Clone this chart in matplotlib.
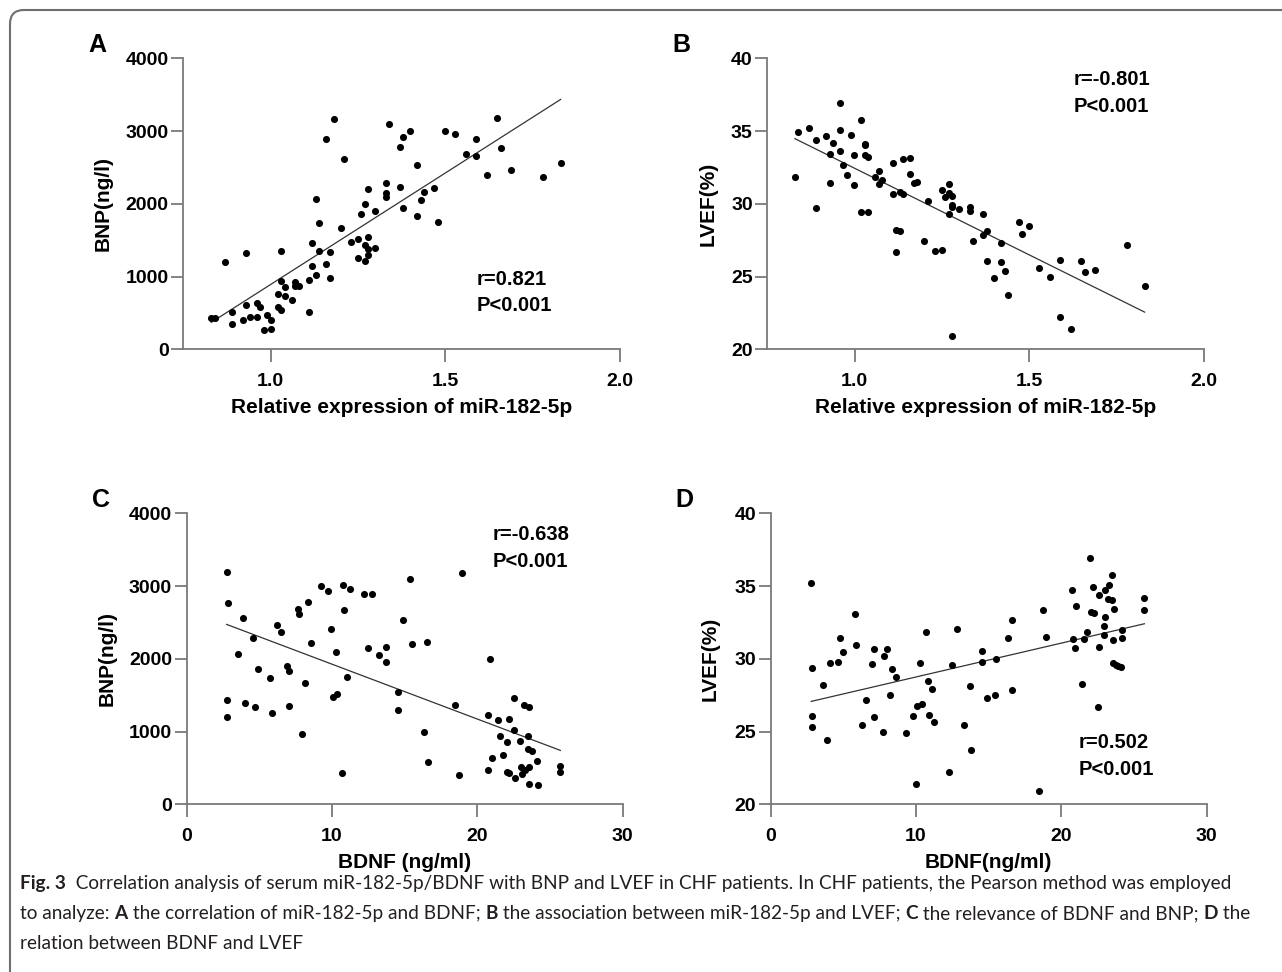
import numpy as np
import matplotlib
matplotlib.use("Agg")
import matplotlib.pyplot as plt
from matplotlib.patches import FancyBboxPatch
from matplotlib.transforms import IdentityTransform

# panel A: miR-182-5p vs BNP
a_x = [0.830, 0.840, 0.870, 0.890, 0.890, 0.920, 0.930, 0.930, 0.940, 0.960,
       0.960, 0.969, 0.980, 0.989, 1.000, 1.000, 1.020, 1.020, 1.030, 1.030,
       1.031, 1.040, 1.040, 1.060, 1.070, 1.070, 1.080, 1.110, 1.110, 1.119,
       1.119, 1.130, 1.130, 1.139, 1.139, 1.159, 1.159, 1.169, 1.169, 1.180,
       1.200, 1.209, 1.229, 1.249, 1.249, 1.259, 1.269, 1.269, 1.269, 1.280,
       1.280, 1.280, 1.280, 1.300, 1.300, 1.330, 1.330, 1.330, 1.339, 1.369,
       1.369, 1.379, 1.379, 1.399, 1.418, 1.418, 1.429, 1.438, 1.469, 1.479,
       1.500, 1.529, 1.560, 1.589, 1.589, 1.619, 1.649, 1.659, 1.689, 1.779,
       1.830]
a_y = [426, 426, 1196, 509, 353, 408, 1324, 614, 444, 632,
       444, 577, 266, 467, 408, 275, 756, 586, 536, 1356,
       935, 861, 729, 678, 930, 875, 866, 953, 509, 1457,
       1150, 2066, 1017, 1737, 1352, 1168, 2891, 1333, 985, 3171,
       1668, 2616, 1471, 1517, 1251, 1860, 1998, 1439, 1219, 2199,
       1544, 1375, 1301, 1897, 1388, 2282, 2144, 2089, 3093, 2777,
       2227, 2923, 1947, 3001, 2534, 1828, 2053, 2158, 2218, 1755,
       3006, 2955, 2681, 2891, 2662, 2401, 3185, 2763, 2461, 2364,
       2557]

# panel B: miR-182-5p vs LVEF
b_x = [0.829, 0.838, 0.869, 0.889, 0.889, 0.919, 0.929, 0.929, 0.939, 0.959,
       0.959, 0.959, 0.968, 0.979, 0.989, 0.999, 0.999, 1.019, 1.019, 1.029,
       1.029, 1.029, 1.038, 1.038, 1.058, 1.069, 1.069, 1.079, 1.109, 1.109,
       1.119, 1.129, 1.119, 1.129, 1.139, 1.139, 1.159, 1.159, 1.169, 1.179,
       1.199, 1.210, 1.229, 1.249, 1.249, 1.259, 1.269, 1.269, 1.278, 1.269,
       1.278, 1.278, 1.278, 1.299, 1.329, 1.329, 1.339, 1.368, 1.368, 1.378,
       1.379, 1.399, 1.419, 1.419, 1.430, 1.439, 1.470, 1.479, 1.500, 1.529,
       1.560, 1.589, 1.589, 1.619, 1.649, 1.659, 1.689, 1.780, 1.830]
b_y = [31.87, 34.91, 35.19, 34.36, 29.69, 34.69, 33.45, 31.43, 34.18, 36.93,
       35.05, 33.61, 32.65, 31.98, 34.71, 33.33, 31.29, 35.74, 29.44, 34.11,
       34.02, 33.33, 33.22, 29.46, 31.82, 32.28, 31.36, 31.62, 32.83, 30.68,
       28.22, 28.16, 26.69, 30.81, 30.65, 33.08, 33.13, 32.05, 31.41, 31.50,
       27.47, 30.19, 26.74, 26.83, 30.93, 30.47, 31.34, 30.74, 30.56, 29.30,
       29.94, 29.76, 20.92, 29.62, 29.78, 29.53, 27.47, 29.28, 27.84, 28.13,
       26.07, 24.88, 27.33, 26.00, 25.41, 23.73, 28.73, 27.95, 28.45, 25.61,
       24.97, 26.12, 22.20, 21.40, 26.05, 25.29, 25.43, 27.15, 24.38]

# panel C: BDNF vs BNP
c_x = [2.78, 2.85, 2.78, 2.75, 3.53, 3.86, 4.04, 4.59, 4.73, 4.93,
       5.71, 5.85, 6.20, 6.47, 6.91, 7.02, 7.05, 7.64, 7.73, 7.94,
       8.12, 8.33, 8.58, 9.25, 9.71, 9.96, 10.08, 10.24, 10.35, 10.67,
       10.74, 10.79, 11.06, 11.25, 12.21, 12.78, 12.46, 13.22, 13.70, 13.70,
       14.51, 14.53, 14.85, 15.35, 15.47, 16.32, 16.55, 16.59, 18.45, 18.73,
       18.91, 20.73, 20.75, 20.89, 21.00, 21.39, 21.55, 21.78, 22.01, 22.01,
       22.19, 22.19, 22.52, 22.54, 22.61, 22.91, 22.97, 23.09, 23.18, 23.30,
       23.50, 23.50, 23.55, 23.55, 23.57, 23.78, 24.08, 24.17, 25.71, 25.71]
c_y = [3189, 2768, 1434, 1196, 2071, 2557, 1393, 2286, 1333, 1860,
       1741, 1255, 2465, 2369, 1906, 1828, 1356, 2685, 2621, 962,
       1672, 2786, 2222, 3006, 2928, 2406, 1475, 2094, 1521, 431,
       3010, 2667, 1755, 2960, 2896, 2896, 2149, 2053, 2163, 1952,
       1544, 1297, 2538, 3098, 2204, 990, 2231, 582, 1370, 408,
       3175, 1223, 467, 2002, 637, 1155, 935, 683, 861, 444,
       1173, 431, 1462, 1022, 362, 875, 513, 417, 1361, 472,
       939, 756, 513, 280, 1333, 729, 600, 270, 532, 449]

# panel D: BDNF vs LVEF
d_x = [2.79, 2.82, 2.82, 2.86, 3.60, 3.89, 4.08, 4.65, 4.77, 4.99,
       5.77, 5.89, 6.28, 6.53, 6.99, 7.08, 7.08, 7.70, 7.79, 8.00,
       8.20, 8.38, 8.64, 9.28, 9.76, 9.99, 10.10, 10.26, 10.42, 10.72,
       10.81, 10.86, 11.11, 11.27, 12.26, 12.49, 12.83, 13.29, 13.70, 13.75,
       14.57, 14.57, 14.89, 15.40, 15.49, 16.36, 16.59, 16.63, 18.49, 18.74,
       18.92, 20.73, 20.80, 20.92, 21.03, 21.40, 21.56, 21.79, 21.99, 22.02,
       22.15, 22.22, 22.52, 22.57, 22.61, 22.93, 22.96, 22.98, 23.03, 23.21,
       23.25, 23.51, 23.51, 23.55, 23.57, 23.62, 23.73, 23.87, 24.08, 24.17,
       24.15, 25.71, 25.71]
d_y = [35.21, 29.35, 26.07, 25.34, 28.18, 24.40, 29.69, 29.81, 31.43, 30.47,
       33.10, 30.93, 25.45, 27.17, 29.65, 30.65, 26.03, 24.99, 30.19, 30.70,
       27.49, 29.30, 28.77, 24.90, 26.09, 21.42, 26.76, 29.71, 26.87, 31.87,
       28.45, 26.16, 27.95, 25.64, 22.22, 29.55, 32.07, 25.43, 28.16, 23.76,
       30.56, 29.76, 27.33, 27.49, 29.97, 31.43, 27.88, 32.67, 20.94, 33.36,
       31.52, 34.73, 31.39, 30.77, 33.63, 28.25, 31.39, 31.84, 36.93, 33.24,
       34.94, 33.15, 26.71, 30.81, 34.39, 32.28, 31.64, 32.85, 34.73, 34.14,
       35.05, 35.76, 34.07, 29.74, 31.32, 33.45, 29.60, 29.51, 29.46, 32.00,
       31.45, 34.20, 33.36]

stats = ["r=0.821\nP<0.001", "r=-0.801\nP<0.001", "r=-0.638\nP<0.001", "r=0.502\nP<0.001"]
letters = ["A", "B", "C", "D"]
xlabels = ["Relative expression of miR-182-5p", "Relative expression of miR-182-5p",
           "BDNF (ng/ml)", "BDNF(ng/ml)"]
ylabels = ["BNP(ng/l)", "LVEF(%)", "BNP(ng/l)", "LVEF(%)"]

W, H = 1282, 972
fig = plt.figure(figsize=(W / 100, H / 100), dpi=100)
plt.rcParams['font.family'] = ['Liberation Sans', 'DejaVu Sans']

# axes boxes in pixels: left, right, top, bottom
boxes = [(183.3, 620.0, 58.3, 349.3), (767.3, 1204.0, 58.3, 349.3),
         (186.7, 622.7, 513.3, 804.3), (770.7, 1206.7, 513.3, 804.3)]
xlims = [(0.75, 2.0), (0.75, 2.0), (0, 30), (0, 30)]
ylims = [(0, 4000), (20, 40), (0, 4000), (20, 40)]
xticks = [[1.0, 1.5, 2.0], [1.0, 1.5, 2.0], [0, 10, 20, 30], [0, 10, 20, 30]]
yticks = [[0, 1000, 2000, 3000, 4000], [20, 25, 30, 35, 40],
          [0, 1000, 2000, 3000, 4000], [20, 25, 30, 35, 40]]
xfmt = ["{:.1f}", "{:.1f}", "{:d}", "{:d}"]
stat_pos = [(0.672, 0.221), (0.701, 0.908), (0.701, 0.908), (0.707, 0.192)]
ylab_x = [-0.183, -0.136, -0.183, -0.139]
data = [(a_x, a_y), (b_x, b_y), (c_x, c_y), (d_x, d_y)]
spine_c = '#7a7a7a'

for i in range(4):
    l, r, t, b = boxes[i]
    ax = fig.add_axes([l / W, 1 - b / H, (r - l) / W, (b - t) / H])
    x = np.array(data[i][0])
    y = np.array(data[i][1])
    ax.scatter(x, y, s=26, color='black', linewidths=0, clip_on=False, zorder=3)
    k, c0 = np.polyfit(x, y, 1)
    xx = np.array([x.min(), x.max()])
    ax.plot(xx, k * xx + c0, color='#333333', lw=0.9, zorder=2)

    ax.set_xlim(*xlims[i])
    ax.set_ylim(*ylims[i])
    ax.set_xticks(xticks[i])
    ax.set_xticklabels([xfmt[i].format(v) for v in xticks[i]])
    ax.set_yticks(yticks[i])
    ax.set_yticklabels([str(v) for v in yticks[i]])
    for s in ['top', 'right']:
        ax.spines[s].set_visible(False)
    for s in ['left', 'bottom']:
        ax.spines[s].set_color(spine_c)
        ax.spines[s].set_linewidth(1.3)
    ax.tick_params(axis='both', direction='out', length=9, width=1.3, color=spine_c,
                   labelsize=14)
    ax.tick_params(axis='x', pad=8)
    ax.tick_params(axis='y', pad=1.5)
    for lab in ax.get_xticklabels() + ax.get_yticklabels():
        lab.set_fontweight('bold')

    ax.set_xlabel(xlabels[i], fontsize=15, fontweight='bold')
    ax.xaxis.set_label_coords(0.5, -0.2)
    ax.xaxis.label.set_va('center')
    ax.set_ylabel(ylabels[i], fontsize=15, fontweight='bold')
    ax.yaxis.set_label_coords(ylab_x[i], 0.5)
    ax.yaxis.label.set_va('center')

    r_txt, p_txt = stats[i].split("\n")
    sx, sy = stat_pos[i]
    ax.text(sx, sy, r_txt, transform=ax.transAxes, fontsize=14.5, fontweight='bold',
            ha='left', va='baseline')
    ax.text(sx, sy - 0.091, p_txt, transform=ax.transAxes, fontsize=14.5,
            fontweight='bold', ha='left', va='baseline')

    fig.text((l - 95) / W, 1 - (t - 13) / H, letters[i], fontsize=18, fontweight='bold',
             ha='left', va='center')

# frame (open on right and bottom)
frame = FancyBboxPatch((10, -40), W + 40, H - 10 + 40,
                       boxstyle="round,pad=0,rounding_size=14",
                       transform=IdentityTransform(), fill=False,
                       ec='#6e6e6e', lw=1.5)
fig.add_artist(frame)

# caption with mixed bold runs
cap_lines = [
    [("Fig. 3", True), ("  Correlation analysis of serum miR-182-5p/BDNF with BNP and LVEF in CHF patients. "
                        "In CHF patients, the Pearson method was employed", False)],
    [("to analyze: ", False), ("A", True), (" the correlation of miR-182-5p and BDNF; ", False),
     ("B", True), (" the association between miR-182-5p and LVEF; ", False), ("C", True),
     (" the relevance of BDNF and BNP; ", False), ("D", True), (" the", False)],
    [("relation between BDNF and LVEF", False)],
]
cap_y = [889, 919, 949]
cap_font = ['Lato', 'DejaVu Sans']
renderer = fig.canvas.get_renderer()


def line_width(line, size):
    total = 0
    for txt, bold in line:
        tt = fig.text(0, 0, txt, fontsize=size, family=cap_font,
                      fontweight='bold' if bold else 'normal')
        total += tt.get_window_extent(renderer=renderer).width
        tt.remove()
    return total


# fit the first two caption lines to the reference text widths (ends ~1255 and ~1233 px)
w_sum = line_width(cap_lines[0], 13.5) + line_width(cap_lines[1], 13.5)
cap_size = 13.5 * (1235 + 1213) / w_sum
for line, yb in zip(cap_lines, cap_y):
    xpos = 20
    for txt, bold in line:
        tt = fig.text(xpos / W, 1 - yb / H, txt, fontsize=cap_size, family=cap_font,
                      fontweight='bold' if bold else 'normal', color='#231f20',
                      ha='left', va='baseline')
        xpos += tt.get_window_extent(renderer=renderer).width

fig.savefig("out.png", dpi=100)
